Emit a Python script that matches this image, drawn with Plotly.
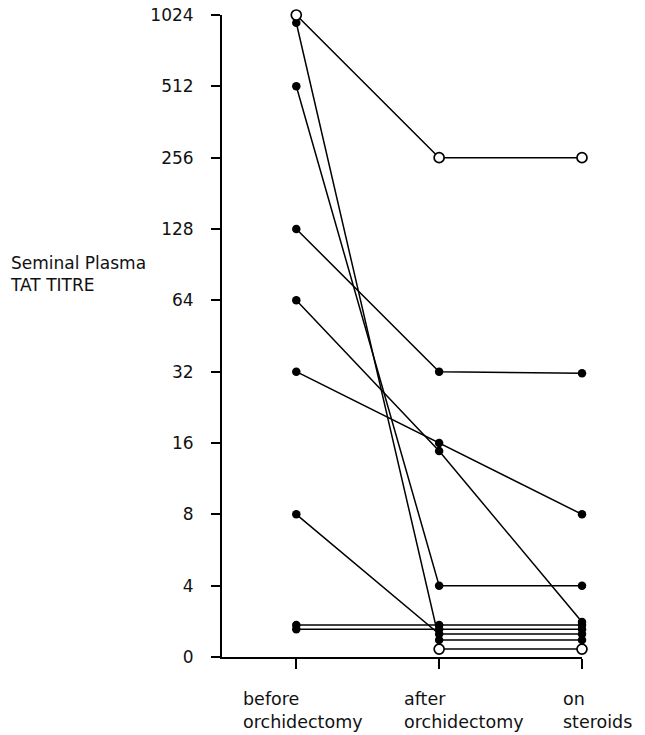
import plotly.graph_objects as go

stages = ["before<br>orchidectomy", "after<br>orchidectomy", "on<br>steroids"]
stage_idx = [0, 1, 2]

# Titre values per patient (before, after, on steroids); near-zero values sit just above the "0" baseline
p_open_top = [1024, 256, 256]
p_a = [950, 2.36, 2.36]
p_b = [512, 4, 4]
p_c = [128, 32, 31.5]
p_d = [64, 14.8, 2.81]
p_e = [32, 16, 8]
p_f = [8, 2.5, 2.5]
p_g = [2.73, 2.73, 2.73]
p_h = [2.62, 2.62, 2.62]
p_open_low = [None, 2.16, 2.16]

filled_series = [p_a, p_b, p_c, p_d, p_e, p_f, p_g, p_h]
open_series = [p_open_top, p_open_low]

tick_vals = [2, 4, 8, 16, 32, 64, 128, 256, 512, 1024]
tick_text = ["0", "4", "8", "16", "32", "64", "128", "256", "512", "1024"]

label_offsets = [-55, -37, -21]  # px shift of left-aligned category labels

FONT = "DejaVu Sans"
fig = go.Figure()

for s in filled_series:
    fig.add_trace(go.Scatter(
        x=stage_idx, y=s, mode="lines+markers",
        line=dict(color="black", width=1.5),
        marker=dict(symbol="circle", size=8.5, color="black"),
        cliponaxis=False, showlegend=False, connectgaps=False))

for s in open_series:
    fig.add_trace(go.Scatter(
        x=stage_idx, y=s, mode="lines+markers",
        line=dict(color="black", width=1.5),
        marker=dict(symbol="circle", size=10, color="white",
                    line=dict(color="black", width=1.7)),
        cliponaxis=False, showlegend=False))

for i, lab in enumerate(stages):
    fig.add_annotation(x=stage_idx[i], y=0, xref="x", yref="paper",
                       text=lab, showarrow=False, xanchor="left", yanchor="top",
                       align="left", xshift=label_offsets[i], yshift=-30,
                       font=dict(family=FONT, size=17.5, color="#111"))

fig.add_annotation(x=-0.594, y=0.5966, xref="paper", yref="paper",
                   text="Seminal Plasma<br>TAT TITRE", showarrow=False,
                   xanchor="left", yanchor="middle", align="left",
                   font=dict(family=FONT, size=17, color="#111"))

fig.update_layout(
    width=645, height=735,
    margin=dict(l=222, r=63, t=15, b=78, autoexpand=False),
    paper_bgcolor="white", plot_bgcolor="white",
    font=dict(family=FONT, size=17, color="#111"),
    xaxis=dict(range=[-0.52, 2], showgrid=False, zeroline=False,
               showline=True, linecolor="black", linewidth=2,
               tickmode="array", tickvals=stage_idx, ticktext=["", "", ""],
               ticks="outside", ticklen=10, tickwidth=1.6, tickcolor="black",
               automargin=False),
    yaxis=dict(type="log", range=[0.30103, 3.0103], showgrid=False, zeroline=False,
               showline=True, linecolor="black", linewidth=2,
               tickmode="array", tickvals=tick_vals, ticktext=tick_text,
               ticks="outside", ticklen=9, tickwidth=1.6, tickcolor="black",
               ticklabelstandoff=14, automargin=False,
               tickfont=dict(family=FONT, size=17, color="#111")),
)

fig.write_html("out.html", config={"displayModeBar": False},
               post_script="document.body.style.margin='0';")
